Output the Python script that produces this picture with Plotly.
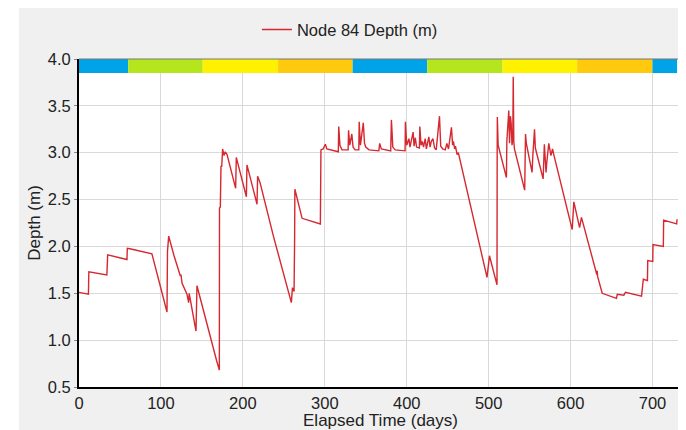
import plotly.graph_objects as go

# ---- data ----
days = [
    0, 11.5, 12, 34, 35, 58.5, 59, 62, 89, 107.4, 108, 109.5,
    116, 123.7, 124.5, 125.7, 131.8, 133.8, 134.5, 142.8, 144, 158, 166.4, 168, 171.3,
    171.5, 172.5, 173.3, 174.2, 175.3, 177, 178.5, 180.7, 191.2, 192, 204.3, 205, 217.3, 218,
    221, 237.6, 243.7, 259.2, 260.5, 262.5, 263.2, 263.5, 272.3, 294.6,
    295.3, 298, 300.7, 302.5, 316.5, 317, 318.5, 321, 328.5, 329, 330.5, 333, 334.5, 337,
    341.5, 342, 343.5, 347, 348.5, 350, 354, 366, 367, 369, 380.5, 381.3, 383, 386,
    398, 398.4, 400, 402.7, 404, 407.8, 409, 410.5, 412, 415.5, 416, 417.5, 419, 420.5,
    422.6, 424, 427, 428.5, 430, 432, 434, 436, 440, 441.5, 444, 447, 449, 451, 454.6,
    456, 457, 458.5, 459.5, 461.5, 463,
    498, 501, 510.2, 510.4, 510.6, 511.6, 521.7, 522.2, 523.8, 524.6, 525.5, 526.6, 527.5,
    528.5, 529.5, 530, 530.7, 531.5, 544, 545, 546, 553, 554, 556, 557, 566.5, 568, 570,
    571, 573.4, 576, 578, 579.5, 602, 604, 611, 613.3, 624, 632, 632.5, 633, 638.6,
    656, 657, 665, 667, 686.6, 688.8, 693.8, 694.2, 700.3, 700.6, 713.2, 713.6, 729.5, 730,
]
depth = [
    1.51, 1.49, 1.73, 1.695, 1.91, 1.86, 1.98, 1.975, 1.92, 1.30, 1.95, 2.11,
    1.90, 1.685, 1.70, 1.61, 1.49, 1.40, 1.50, 1.097, 1.58, 1.11, 0.81, 0.78, 0.68,
    2.41, 2.42, 2.857, 2.85, 3.04, 2.97, 3.01, 2.98, 2.62, 2.95, 2.53, 2.87, 2.45, 2.75,
    2.68, 2.10, 1.90, 1.40, 1.56, 1.52, 2.10, 2.61, 2.30, 2.24,
    3.03, 3.04, 3.09, 3.04, 3.01, 3.28, 3.08, 3.03, 3.03, 3.24, 3.08, 3.20, 3.06, 3.03,
    3.03, 3.33, 3.08, 3.32, 3.10, 3.06, 3.03, 3.02, 3.10, 3.04, 3.02, 3.35, 3.06, 3.03,
    3.02, 3.33, 3.08, 3.15, 3.06, 3.22, 3.07, 3.16, 3.06, 3.05, 3.28, 3.08, 3.12, 3.06,
    3.15, 3.04, 3.17, 3.06, 3.12, 3.15, 3.05, 3.03, 3.39, 3.07, 3.04, 3.03, 3.10, 3.04, 3.27,
    3.08, 3.12, 3.04, 3.07, 2.98, 3.00,
    1.67, 1.90, 1.59, 2.93, 3.38, 3.08, 2.735, 3.12, 3.43, 3.45, 3.10, 3.39, 3.31,
    3.08, 3.15, 3.81, 3.12, 3.04, 2.60, 3.20, 3.10, 2.79, 2.98, 3.25, 3.05, 2.72, 3.09, 2.79,
    2.90, 3.10, 2.97, 3.04, 2.98, 2.18, 2.475, 2.20, 2.31, 1.97, 1.70, 1.74, 1.68, 1.50,
    1.446, 1.49, 1.48, 1.51, 1.47, 1.65, 1.635, 1.85, 1.84, 2.02, 2.00, 2.28, 2.24, 2.29,
]

season_edges = [0, 60, 151, 243, 334, 425, 517, 608, 700, 730]
season_colors = ["#00a2e8", "#b5e61d", "#fff200", "#ffc90e",
                 "#00a2e8", "#b5e61d", "#fff200", "#ffc90e", "#00a2e8"]
band_bottom = 3.85
band_top = 4.0

x_ticks = [0, 100, 200, 300, 400, 500, 600, 700]
y_ticks = [0.5, 1.0, 1.5, 2.0, 2.5, 3.0, 3.5, 4.0]
y_tick_labels = ["0.5", "1.0", "1.5", "2.0", "2.5", "3.0", "3.5", "4.0"]

FONT = "Liberation Sans, Arial, sans-serif"
TXT = "#222222"

fig = go.Figure()
fig.add_trace(go.Scatter(
    x=days, y=depth, mode="lines", name="Node 84 Depth (m)",
    line=dict(color="#d62830", width=1.4),
))

shapes = []
# white strip left of the grey panel
shapes.append(dict(type="rect", xref="paper", yref="paper", x0=-0.3, x1=-0.0995,
                   y0=-0.3, y1=1.3, fillcolor="white", line=dict(width=0), layer="below"))
# season band
for i, c in enumerate(season_colors):
    shapes.append(dict(type="rect", xref="x", yref="y",
                       x0=season_edges[i], x1=season_edges[i + 1],
                       y0=band_bottom, y1=band_top,
                       fillcolor=c, line=dict(width=0), layer="above"))
# top and right frame
shapes.append(dict(type="line", xref="paper", yref="paper", x0=0, x1=1, y0=1, y1=1,
                   line=dict(color="#777777", width=1.2), layer="above"))
shapes.append(dict(type="line", xref="paper", yref="paper", x0=1, x1=1, y0=0, y1=1,
                   line=dict(color="#999999", width=1.2), layer="above"))

fig.update_layout(
    width=678, height=422,
    margin=dict(l=71, r=4, t=42, b=43, pad=0),
    paper_bgcolor="#f0f0f0",
    plot_bgcolor="white",
    font=dict(family=FONT, color=TXT, size=16),
    shapes=shapes,
    showlegend=True,
    legend=dict(x=0.295, xanchor="left", y=1.089, yanchor="middle",
                orientation="h", bgcolor="rgba(0,0,0,0)",
                font=dict(family=FONT, size=16.5, color=TXT)),
    xaxis=dict(
        range=[0, 736], tickmode="array", tickvals=x_ticks,
        showgrid=True, gridcolor="#d9d9d9", gridwidth=1,
        showline=True, linecolor="black", linewidth=2,
        ticks="", tickfont=dict(size=16.5), zeroline=False, automargin=False,
        title=dict(text="Elapsed Time (days)", font=dict(size=17), standoff=2),
    ),
    yaxis=dict(
        range=[0.5, 4.0], tickmode="array", tickvals=y_ticks, ticktext=y_tick_labels,
        showgrid=True, gridcolor="#d9d9d9", gridwidth=1,
        showline=True, linecolor="black", linewidth=2,
        ticks="outside", ticklen=3, tickcolor="#888888",
        tickfont=dict(size=16.5), zeroline=False, automargin=False,
        title=dict(text="Depth (m)", font=dict(size=17), standoff=3),
    ),
)

fig.write_html("out.html")
